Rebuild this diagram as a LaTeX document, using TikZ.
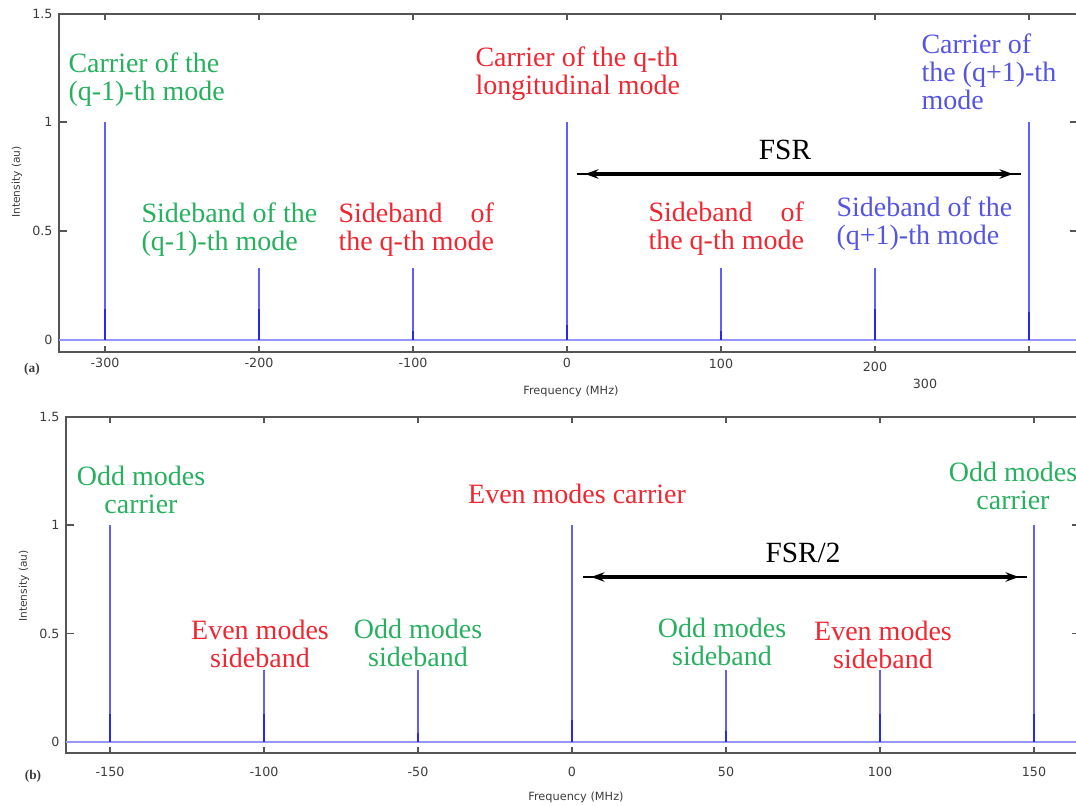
\documentclass[tikz,border=0pt]{standalone}
\usepackage{fontspec}
\setmainfont{Liberation Serif}
\newfontfamily\axfont{DejaVu Sans}
\usetikzlibrary{arrows.meta}

\definecolor{spikeblue}{RGB}{95,95,255}
\definecolor{footblue}{RGB}{40,40,240}
\definecolor{baseblue}{RGB}{150,150,255}
\definecolor{lblgreen}{RGB}{40,175,95}
\definecolor{lblred}{RGB}{238,40,50}
\definecolor{lblblue}{RGB}{85,85,225}
\definecolor{axgray}{RGB}{85,85,85}
\definecolor{txtgray}{RGB}{60,60,60}

\tikzset{every picture/.style={line width=0.75pt}}
\tikzset{
	lbl/.style={font=\fontsize{21}{21}\selectfont, inner sep=0pt, align=left},
	lblc/.style={lbl, align=center},
	ticklbl/.style={font=\axfont\fontsize{9.5}{11}\selectfont, text=txtgray, inner sep=0pt},
	ylbl/.style={font=\axfont\fontsize{8}{9}\selectfont, text=txtgray, inner sep=0pt, rotate=90},
	panellbl/.style={font=\bfseries\fontsize{10}{11}\selectfont, text=txtgray, inner sep=0pt},
	axbox/.style={draw=axgray, line width=1.5pt},
	axtick/.style={draw=axgray, line width=1pt},
	baseln/.style={draw=baseblue, line width=2.2pt},
	spike/.style={draw=spikeblue, line width=1.5pt},
	spikefoot/.style={draw=footblue, line width=2pt},
	fsrline/.style={line width=3pt, {Stealth[length=10pt,width=7pt]}-{Stealth[length=10pt,width=7pt]}, shorten <=6pt, shorten >=6pt},
	fsrlbl/.style={font=\fontsize{22}{22}\selectfont, inner sep=0pt}
}

\begin{document}
\begin{tikzpicture}[x=0.75pt,y=0.75pt,yscale=-1,xscale=1]
	\useasboundingbox (0,0) rectangle (1076,806);
	\clip (0,0) rectangle (1076,806);
	
	%%%%%%%% panel (a)
	%Axes box
	\draw [axbox] (59,14) rectangle (1078,352);
	%Ticks
	\foreach \i in {0,...,6} {
		\draw [axtick] (105+154*\i,352) -- ++(0,-6);
		\draw [axtick] (105+154*\i,14) -- ++(0,6);
	}
	\foreach \y in {340,231,122} {
		\draw [axtick] (59,\y) -- ++(8,0);
		\draw [axtick] (1078,\y) -- ++(-8,0);
	}
	%Baseline
	\draw [baseln] (59,340) -- (1078,340);
	%Spikes
	\foreach \x/\h/\t in {105/1/0.14, 259/0.33/0.14, 413/0.33/0.04, 567/1/0.07, 721/0.33/0.04, 875/0.33/0.14, 1029/1/0.13} {
		\draw [spike] (\x,340) -- (\x,340-218*\h);
		\draw [spikefoot] (\x,340) -- (\x,340-218*\t);
	}
	
	% Tick labels
	\foreach \i/\lab/\yy in {0/-300/363, 1/-200/363, 2/-100/363, 3/0/363, 4/100/364, 5/200/367} {
		\draw (105+154*\i,\yy) node (fa\i) [ticklbl] {\lab};
	}
	\draw (925,384) node (fa6) [ticklbl] {300};
	\draw (53,14) node (ya3) [ticklbl, anchor=east] {1.5};
	\draw (53,122) node (ya2) [ticklbl, anchor=east] {1};
	\draw (53,231) node (ya1) [ticklbl, anchor=east] {0.5};
	\draw (53,340) node (ya0) [ticklbl, anchor=east] {0};
	% Axis titles
	\draw (571,391) node (xtitlea) [ticklbl, font=\axfont\fontsize{8.5}{10}\selectfont] {Frequency (MHz)};
	\draw (17,182) node (ytitlea) [ylbl] {Intensity (au)};
	\draw (32,369) node (pa) [panellbl] {(a)};
	
	% Text Node
	\draw (68,80) node (carqm) [lbl, anchor=west, text=lblgreen] {Carrier of the\\(q-1)-th mode};
	% Text Node
	\draw (475,74) node (carq) [lbl, anchor=west, text=lblred] {Carrier of the q-th\\longitudinal mode};
	% Text Node
	\draw (921,72) node (carqp) [lbl, anchor=west, text=lblblue] {Carrier of\\the (q+1)-th\\mode};
	% Text Node
	\draw (141,230) node (sbqm) [lbl, anchor=west, text=lblgreen] {Sideband of the\\(q-1)-th mode};
	% Text Node
	\draw (338,230) node (sbqa) [lbl, anchor=west, text=lblred] {Sideband\hspace{0.75em} of\\the q-th mode};
	% Text Node
	\draw (648,229) node (sbqb) [lbl, anchor=west, text=lblred] {Sideband\hspace{0.75em} of\\the q-th mode};
	% Text Node
	\draw (836,224) node (sbqp) [lbl, anchor=west, text=lblblue] {Sideband of the\\(q+1)-th mode};
	
	%FSR arrow
	\coordinate (fsrL) at (577,174);
	\coordinate (fsrR) at (1021,174);
	\draw [line width=1pt] (fsrL) -- (fsrR);
	\draw [fsrline] (fsrL) -- (fsrR);
	\draw (785,150) node (fsr) [fsrlbl] {FSR};
	
	%%%%%%%% panel (b)
	%Axes box
	\draw [axbox] (66,417) rectangle (1080,753);
	%Ticks
	\foreach \i in {0,...,6} {
		\draw [axtick] (110+154*\i,753) -- ++(0,-6);
		\draw [axtick] (110+154*\i,417) -- ++(0,6);
	}
	\foreach \y in {742,633.5,525} {
		\draw [axtick] (66,\y) -- ++(8,0);
		\draw [axtick] (1080,\y) -- ++(-8,0);
	}
	%Baseline
	\draw [baseln] (66,742) -- (1080,742);
	%Spikes
	\foreach \x/\h/\t in {110/1/0.13, 264/0.33/0.13, 418/0.33/0.04, 572/1/0.1, 726/0.33/0.05, 880/0.33/0.13, 1034/1/0.13} {
		\draw [spike] (\x,742) -- (\x,742-217*\h);
		\draw [spikefoot] (\x,742) -- (\x,742-217*\t);
	}
	
	% Tick labels
	\foreach \i/\lab in {0/-150, 1/-100, 2/-50, 3/0, 4/50, 5/100, 6/150} {
		\draw (110+154*\i,772) node (fb\i) [ticklbl] {\lab};
	}
	\draw (60,417) node (yb3) [ticklbl, anchor=east] {1.5};
	\draw (60,525) node (yb2) [ticklbl, anchor=east] {1};
	\draw (60,633.5) node (yb1) [ticklbl, anchor=east] {0.5};
	\draw (60,742) node (yb0) [ticklbl, anchor=east] {0};
	% Axis titles
	\draw (576,797) node (xtitleb) [ticklbl, font=\axfont\fontsize{8.5}{10}\selectfont] {Frequency (MHz)};
	\draw (24,586) node (ytitleb) [ylbl] {Intensity (au)};
	\draw (33,776) node (pb) [panellbl] {(b)};
	
	% Text Node
	\draw (141,490) node (oddcl) [lblc, text=lblgreen] {Odd modes\\carrier};
	% Text Node
	\draw (577,494) node (evenc) [lblc, text=lblred] {Even modes carrier};
	% Text Node
	\draw (1013,486) node (oddcr) [lblc, text=lblgreen] {Odd modes\\carrier};
	% Text Node
	\draw (260,644) node (evensl) [lblc, text=lblred] {Even modes\\sideband};
	% Text Node
	\draw (418,643) node (oddsl) [lblc, text=lblgreen] {Odd modes\\sideband};
	% Text Node
	\draw (722,642) node (oddsr) [lblc, text=lblgreen] {Odd modes\\sideband};
	% Text Node
	\draw (883,645) node (evensr) [lblc, text=lblred] {Even modes\\sideband};
	
	%FSR/2 arrow
	\coordinate (hfsrL) at (583,577);
	\coordinate (hfsrR) at (1027,577);
	\draw [line width=1pt] (hfsrL) -- (hfsrR);
	\draw [fsrline] (hfsrL) -- (hfsrR);
	\draw (803,553) node (hfsr) [fsrlbl] {FSR/2};
\end{tikzpicture}
\end{document}
